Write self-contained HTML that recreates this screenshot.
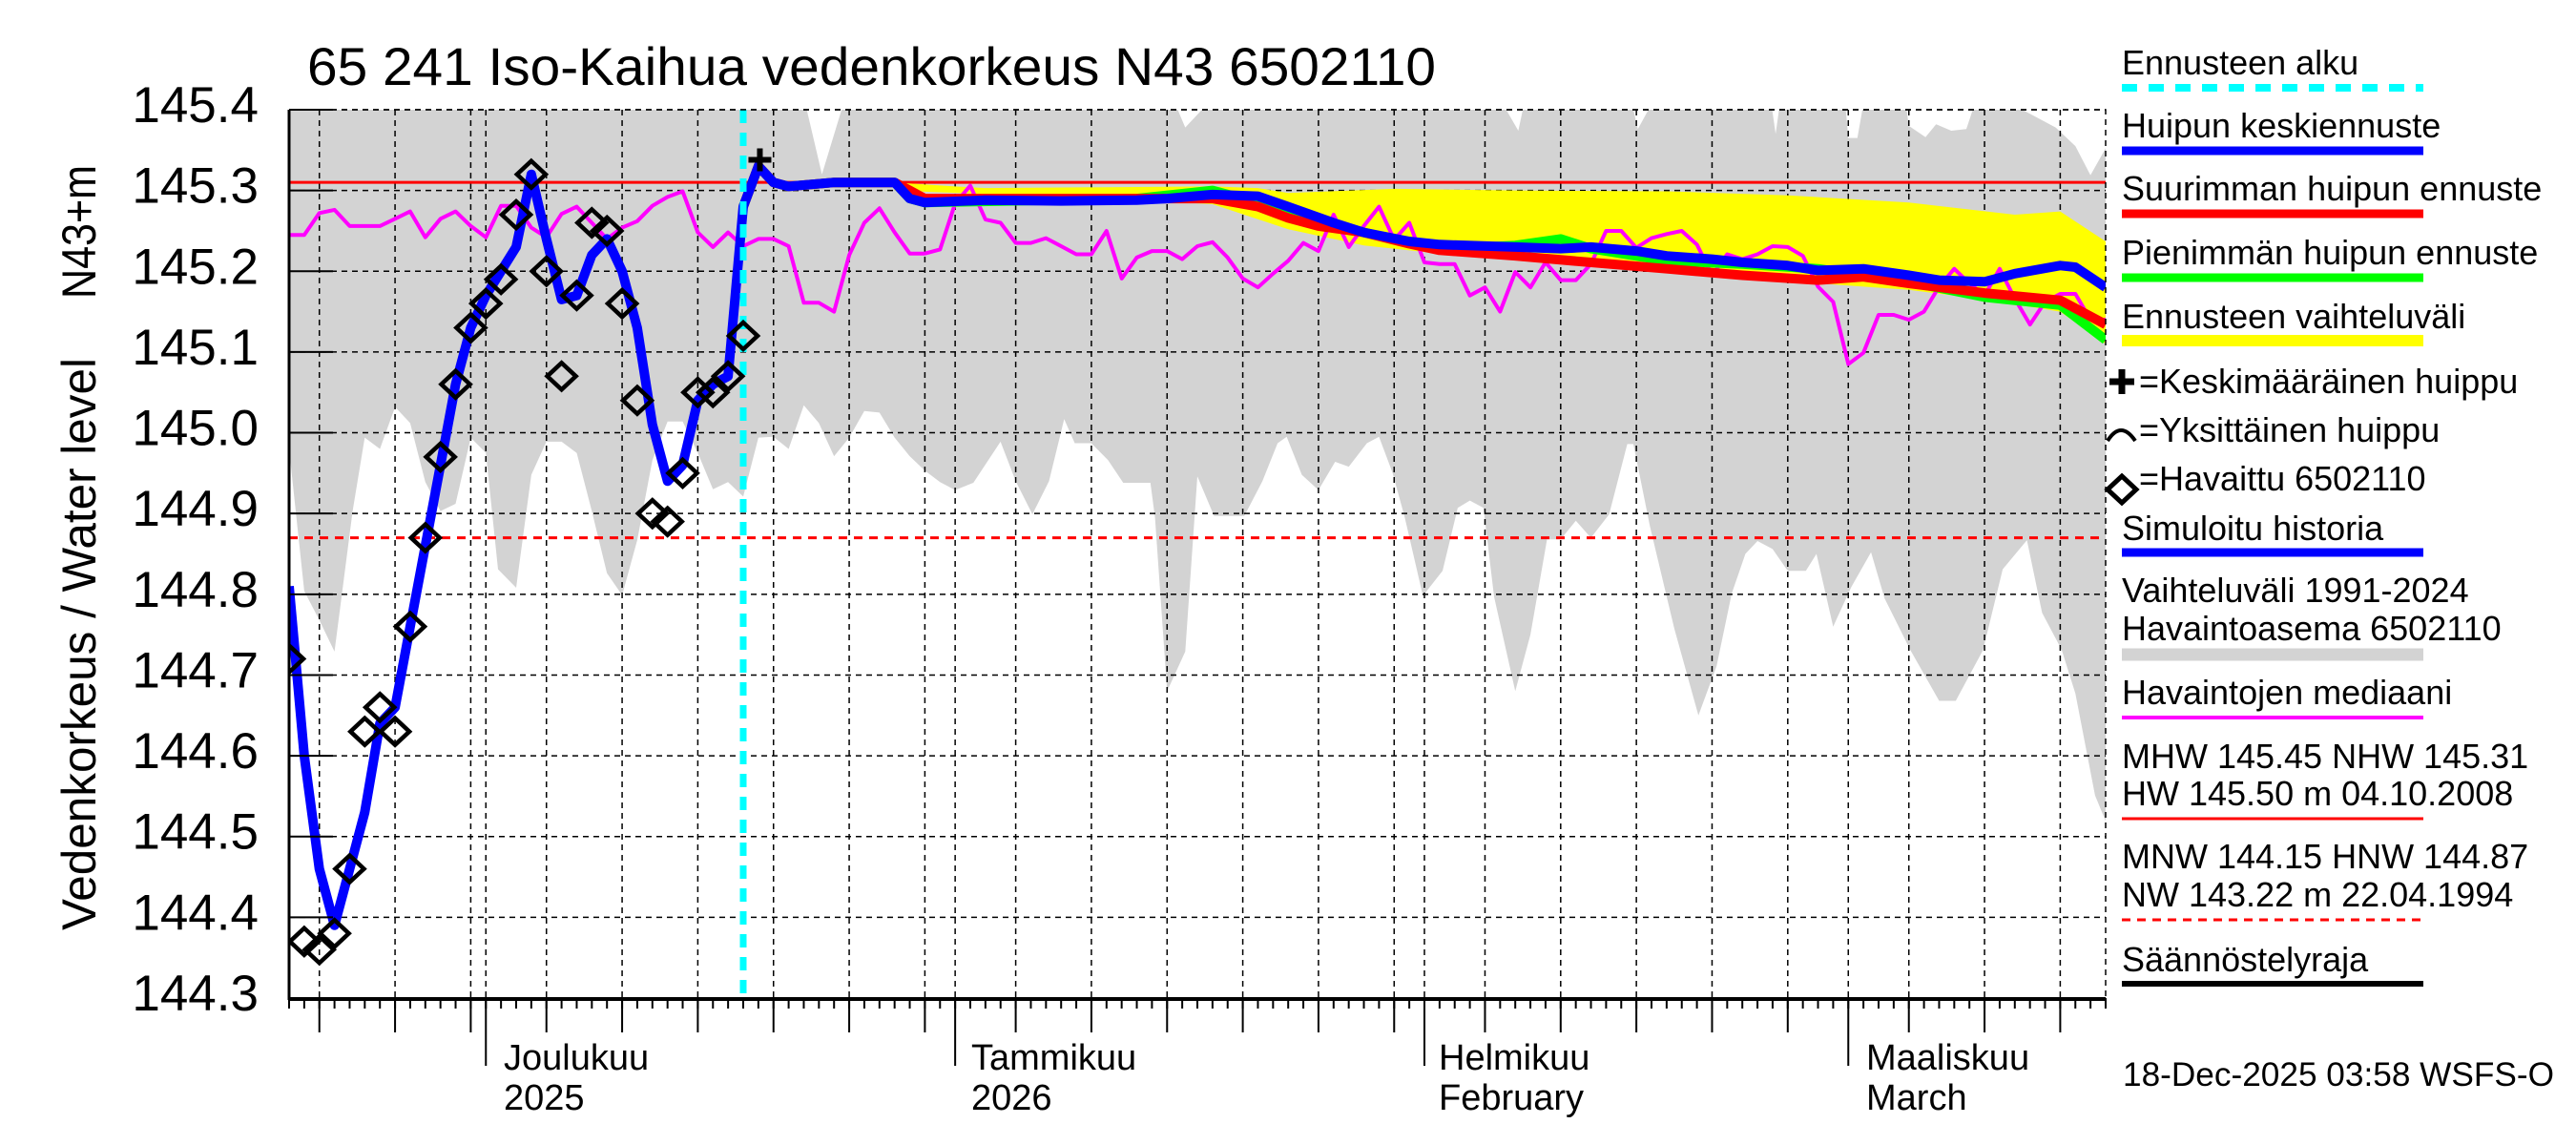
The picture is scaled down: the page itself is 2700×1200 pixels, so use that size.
<!DOCTYPE html>
<html><head><meta charset="utf-8"><style>
html,body{margin:0;padding:0;background:#fff;}
svg{display:block;font-family:"Liberation Sans",Arial,sans-serif;}
</style></head><body>
<svg id="chart" width="2700" height="1200" viewBox="0 0 2700 1200" xmlns="http://www.w3.org/2000/svg">
<defs><clipPath id="plotclip"><rect x="303" y="115" width="1904" height="931"/></clipPath></defs>
<rect width="2700" height="1200" fill="#fff"/>
<text x="322" y="89" font-size="56" textLength="1183" lengthAdjust="spacingAndGlyphs">65 241 Iso-Kaihua vedenkorkeus N43 6502110</text>
<g id="band" clip-path="url(#plotclip)"></g>
<g id="grid"></g>
<g id="series" clip-path="url(#plotclip)"></g>
<g id="axes"></g>
<text transform="translate(100,675) rotate(-90)" text-anchor="middle" font-size="50" textLength="600" lengthAdjust="spacingAndGlyphs">Vedenkorkeus / Water level</text>
<text transform="translate(100,243) rotate(-90)" text-anchor="middle" font-size="50" textLength="140" lengthAdjust="spacingAndGlyphs">N43+m</text>
<g id="legend" font-size="36">
<text x="2224" y="78">Ennusteen alku</text>
<line x1="2224" y1="92" x2="2540" y2="92" stroke="#00ffff" stroke-width="8" stroke-dasharray="16,12"/>
<text x="2224" y="144">Huipun keskiennuste</text>
<line x1="2224" y1="158" x2="2540" y2="158" stroke="#0000ff" stroke-width="9"/>
<text x="2224" y="210">Suurimman huipun ennuste</text>
<line x1="2224" y1="224" x2="2540" y2="224" stroke="#ff0000" stroke-width="9"/>
<text x="2224" y="277">Pienimmän huipun ennuste</text>
<line x1="2224" y1="291" x2="2540" y2="291" stroke="#00ff00" stroke-width="9"/>
<text x="2224" y="344">Ennusteen vaihteluväli</text>
<line x1="2224" y1="357" x2="2540" y2="357" stroke="#ffff00" stroke-width="12"/>
<path d="M2211 400 H2237 M2224 387 V413" stroke="#000" stroke-width="7"/>
<text x="2242" y="412">=Keskimääräinen huippu</text>
<path d="M2209 462 Q2223 440 2238 462" stroke="#000" stroke-width="4" fill="none"/>
<text x="2242" y="463">=Yksittäinen huippu</text>
<path d="M2224 499 L2239 513 L2224 527 L2209 513 Z" stroke="#000" stroke-width="5" fill="none"/>
<text x="2242" y="514">=Havaittu 6502110</text>
<text x="2224" y="566">Simuloitu historia</text>
<line x1="2224" y1="579" x2="2540" y2="579" stroke="#0000ff" stroke-width="9"/>
<text x="2224" y="631">Vaihteluväli 1991-2024</text>
<text x="2224" y="671">Havaintoasema 6502110</text>
<line x1="2224" y1="686" x2="2540" y2="686" stroke="#d3d3d3" stroke-width="13"/>
<text x="2224" y="738">Havaintojen mediaani</text>
<line x1="2224" y1="752" x2="2540" y2="752" stroke="#ff00ff" stroke-width="4"/>
<text x="2224" y="805">MHW 145.45 NHW 145.31</text>
<text x="2224" y="844">HW 145.50 m 04.10.2008</text>
<line x1="2224" y1="858" x2="2540" y2="858" stroke="#ff0000" stroke-width="3"/>
<text x="2224" y="910">MNW 144.15 HNW 144.87</text>
<text x="2224" y="950">NW 143.22 m 22.04.1994</text>
<line x1="2224" y1="964" x2="2540" y2="964" stroke="#ff0000" stroke-width="3" stroke-dasharray="9,7"/>
<text x="2224" y="1018">Säännöstelyraja</text>
<line x1="2224" y1="1031" x2="2540" y2="1031" stroke="#000" stroke-width="6"/>
</g>
<text x="2225" y="1138" font-size="35" textLength="452" lengthAdjust="spacingAndGlyphs">18-Dec-2025 03:58 WSFS-O</text>
<g id="xlabels" font-size="38">
<text x="528" y="1121">Joulukuu</text>
<text x="528" y="1163">2025</text>
<text x="1018" y="1121">Tammikuu</text>
<text x="1018" y="1163">2026</text>
<text x="1508" y="1121">Helmikuu</text>
<text x="1508" y="1163">February</text>
<text x="1956" y="1121">Maaliskuu</text>
<text x="1956" y="1163">March</text>
</g>
</svg>
<script>
// ---- data (day index: 0 = 18 Nov 2025) ----
const yTicks = [145.4,145.3,145.2,145.1,145.0,144.9,144.8,144.7,144.6,144.5,144.4,144.3];
const yTickLabels = ["145.4","145.3","145.2","145.1","145.0","144.9","144.8","144.7","144.6","144.5","144.4","144.3"];
const gridDays = [2,7,12,13,17,22,27,32,37,42,44,48,53,58,63,68,73,75,79,84,89,94,99,103,107,112,117];
const monthDays = [13,44,75,103];
const forecastStartDay = 30;
const nhwLevel = 145.31;
const hnwLevel = 144.87;
const observedVals = [144.72,144.37,144.36,144.38,144.46,144.63,144.66,144.63,144.76,144.87,144.97,145.06,145.13,145.16,145.19,145.27,145.32,145.20,145.07,145.17,145.26,145.25,145.16,145.04,144.90,144.89,144.95,145.05,145.05,145.07,145.12];
const meanPeakDay = 31.1, meanPeakVal = 145.338;
const blueDays = [0,1,2,3,4,5,6,7,8,9,10,11,12,13,14,15,16,17,18,19,20,21,22,23,24,25,26,27,28,29,30,31,32,33,36,40,41,42,46,51,56,58,61,64,66,69,71,74,76,81,84,86,89,91,94,96,99,101,104,107,109,112,114,117,118,120];
const blueVals = [144.81,144.60,144.46,144.39,144.46,144.53,144.64,144.66,144.76,144.86,144.96,145.06,145.13,145.17,145.20,145.23,145.32,145.24,145.165,145.17,145.22,145.24,145.20,145.13,145.01,144.94,144.96,145.04,145.06,145.07,145.28,145.33,145.31,145.305,145.31,145.31,145.29,145.285,145.288,145.287,145.288,145.29,145.295,145.293,145.28,145.26,145.248,145.237,145.233,145.23,145.228,145.23,145.225,145.219,145.215,145.211,145.207,145.201,145.203,145.195,145.189,145.187,145.197,145.207,145.205,145.18];
const redDays = [30,31,32,33,36,40,41,42,56,61,64,66,68,71,74,76,81,86,91,96,101,104,107,112,117,120];
const redVals = [145.28,145.33,145.31,145.305,145.31,145.31,145.30,145.29,145.29,145.29,145.28,145.266,145.256,145.248,145.234,145.226,145.219,145.211,145.203,145.195,145.189,145.193,145.185,145.173,145.164,145.134];
const greenDays = [30,31,32,33,36,40,41,42,56,61,66,71,76,81,84,86,91,96,101,107,112,117,120];
const greenVals = [145.28,145.33,145.31,145.305,145.31,145.31,145.29,145.285,145.29,145.30,145.275,145.248,145.227,145.232,145.24,145.228,145.213,145.209,145.203,145.187,145.168,145.158,145.115];
const yelTopDays = [40,44,46,61,64,66,73,81,91,99,107,114,117,120];
const yelTopVals = [145.31,145.305,145.303,145.305,145.303,145.297,145.302,145.30,145.299,145.294,145.285,145.27,145.274,145.237];
const yelBotDays = [40,56,61,66,71,76,81,91,101,107,112,117,120];
const yelBotVals = [145.30,145.288,145.283,145.252,145.232,145.222,145.216,145.20,145.185,145.177,145.165,145.15,145.11];
const medianVals = [145.245,145.245,145.272,145.276,145.256,145.256,145.256,145.265,145.274,145.242,145.265,145.274,145.256,145.242,145.281,145.281,145.254,145.242,145.271,145.280,145.260,145.240,145.254,145.262,145.281,145.292,145.299,145.248,145.230,145.248,145.231,145.240,145.240,145.231,145.161,145.161,145.150,145.220,145.260,145.278,145.248,145.222,145.222,145.227,
145.284,145.306,145.264,145.260,145.235,145.235,145.241,145.231,145.221,145.221,145.250,145.191,145.217,145.225,145.225,145.215,145.231,145.236,145.217,145.191,145.180,145.197,145.213,145.235,145.225,145.270,145.230,145.256,145.280,145.239,145.260,145.211,145.209,145.209,145.170,145.180,145.150,145.199,145.180,145.211,145.189,145.189,145.209,145.250,145.250,145.229,145.241,145.246,145.250,145.233,145.195,145.221,145.215,145.221,145.231,145.230,145.219,145.181,145.162,145.085,145.099,145.146,145.146,145.140,145.150,145.181,145.203,145.185,145.170,145.203,145.166,145.134,145.162,145.172,145.172,145.140,145.140];
const upDays = [0,33.8,34.2,35.2,36.5,36.8,58.5,58.7,59.2,60.3,60.5,80.2,80.4,81.2,81.5,81.7,88.6,88.8,89.1,89.8,90,97.6,98.2,98.8,102.6,103,103.6,104.4,106.5,107,108.1,108.8,109.8,110.8,112.1,113.6,114.5,116.7,118,119,120.2];
const upVals = [145.45,145.45,145.40,145.32,145.40,145.45,145.45,145.40,145.378,145.40,145.45,145.45,145.40,145.374,145.40,145.45,145.45,145.40,145.376,145.40,145.45,145.45,145.37,145.45,145.45,145.365,145.365,145.45,145.45,145.38,145.366,145.382,145.374,145.376,145.45,145.45,145.40,145.378,145.355,145.319,145.359];
const lowDays = [0,1,2,3,4.2,5,6,7,8,9,10,11,12,13,13.8,15,16,17,18,19,20,21,22,23,24,25,26,27,28,29,30,31,32,33,34,35,36,37,38,39,40,41,42,43,44,45.2,47,48,49.1,50.2,51.2,51.9,53,54.1,55.1,56.9,57.2,58,59.2,60,61.1,63.1,64.3,65.3,65.9,66.9,68,69.1,70,71.2,72,72.9,73.7,74.9,76.2,77.2,78,78.9,79.6,81,82,83.1,84,85,86,87.2,88.4,88.8,89.9,91.5,93.1,94.3,95.3,96.2,97,98,99,100.2,100.9,102,103.2,104.5,105.4,107.1,109,110.1,111.9,113.2,114.8,115.8,117.1,118,119.3,120.2];
const lowVals = [144.98,144.804,144.768,144.729,144.903,144.994,144.98,145.032,145.012,144.939,144.903,144.912,144.994,144.975,144.831,144.808,144.948,144.989,144.989,144.975,144.903,144.826,144.799,144.867,144.966,145.014,145.014,144.975,144.930,144.939,144.921,144.994,144.995,144.98,145.034,145.012,144.971,144.994,145.027,145.025,144.994,144.971,144.953,144.939,144.929,144.938,144.989,144.94,144.899,144.94,145.017,144.987,144.987,144.966,144.938,144.938,144.895,144.68,144.729,144.946,144.897,144.897,144.94,144.987,144.995,144.948,144.929,144.964,144.958,144.987,144.995,144.95,144.895,144.798,144.829,144.907,144.916,144.907,144.797,144.68,144.75,144.868,144.868,144.891,144.87,144.899,144.986,144.986,144.884,144.758,144.65,144.711,144.801,144.85,144.866,144.856,144.829,144.829,144.85,144.76,144.809,144.852,144.795,144.731,144.668,144.668,144.731,144.831,144.867,144.777,144.731,144.677,144.551,144.510];

// ---- scales ----
const X0 = 303, X1 = 2207, Y0 = 115, Y1 = 1046, DAYS = 120;
function xs(d){ return X0 + d*(X1-X0)/DAYS; }
function ys(v){ return Y0 + (145.4 - v)*(Y1-Y0)/1.1; }
const NS = "http://www.w3.org/2000/svg";
function mk(tag, attrs, parent){
  const e = document.createElementNS(NS, tag);
  for (const k in attrs) e.setAttribute(k, attrs[k]);
  parent.appendChild(e);
  return e;
}
function pts(days, vals){ return days.map((d,i)=>xs(d).toFixed(1)+","+ys(vals[i]).toFixed(1)).join(" "); }

const band = document.getElementById("band");
const grid = document.getElementById("grid");
const series = document.getElementById("series");
const axes = document.getElementById("axes");

let bandPts = pts(upDays, upVals) + " " + lowDays.map((d,i)=>xs(d).toFixed(1)+","+ys(lowVals[i]).toFixed(1)).reverse().join(" ");
const bandPoly = mk("polygon", {points: bandPts, fill: "#d3d3d3"}, band);



yTicks.forEach((v,i)=>{
  const y = ys(v);
  const gl = mk("line", {x1: X0, x2: X1, y1: y, y2: y, stroke: "#000", "stroke-width": 1.5, "stroke-dasharray": "6,5"}, grid);
  
  
  const tk = mk("line", {x1: X0, x2: X0+46, y1: y, y2: y, stroke: "#000", "stroke-width": 2}, axes);
  
  
  const lb = mk("text", {x: 271, y: y+13, "font-size": 53, "text-anchor": "end"}, axes);
  lb.textContent = yTickLabels[i];
  
  
});
gridDays.forEach(d=>{
  const x = xs(d);
  const gl = mk("line", {x1: x, x2: x, y1: Y0, y2: Y1, stroke: "#000", "stroke-width": 1.5, "stroke-dasharray": "6,5"}, grid);
  
  
  const isMonth = monthDays.indexOf(d) >= 0;
  const tk = mk("line", {x1: x, x2: x, y1: Y1, y2: isMonth ? 1117 : 1082, stroke: "#000", "stroke-width": 2}, axes);
  
  
});
for (let d=0; d<=DAYS; d++){
  const tk = mk("line", {x1: xs(d), x2: xs(d), y1: Y1, y2: 1057, stroke: "#000", "stroke-width": 2}, axes);
  
  
}
const frame = mk("path", {d: `M${X0} ${Y0} H${X1} V${Y1}`, fill: "none", stroke: "#000", "stroke-width": 1.5, "stroke-dasharray": "6,5"}, axes);


const yAxis = mk("line", {x1: X0, x2: X0, y1: Y0, y2: Y1+2, stroke: "#000", "stroke-width": 3}, axes);


const xAxis = mk("line", {x1: X0, x2: X1, y1: Y1+1, y2: Y1+1, stroke: "#000", "stroke-width": 4}, axes);



const nhw = mk("line", {x1: X0, x2: X1, y1: ys(nhwLevel), y2: ys(nhwLevel), stroke: "#ff0000", "stroke-width": 3}, series);


const hnw = mk("line", {x1: X0, x2: X1, y1: ys(hnwLevel), y2: ys(hnwLevel), stroke: "#ff0000", "stroke-width": 3, "stroke-dasharray": "9,7"}, series);



const yel = mk("polygon", {points: pts(yelTopDays, yelTopVals) + " " + yelBotDays.map((d,i)=>xs(d).toFixed(1)+","+ys(yelBotVals[i]).toFixed(1)).reverse().join(" "), fill: "#ffff00"}, series);



const med = mk("polyline", {points: pts(medianVals.map((v,i)=>i), medianVals), fill: "none", stroke: "#ff00ff", "stroke-width": 4, "stroke-linejoin": "round"}, series);



const g = mk("polyline", {points: pts(greenDays, greenVals), fill: "none", stroke: "#00ff00", "stroke-width": 10, "stroke-linejoin": "round"}, series);


const r = mk("polyline", {points: pts(redDays, redVals), fill: "none", stroke: "#ff0000", "stroke-width": 10, "stroke-linejoin": "round"}, series);


const b = mk("polyline", {points: pts(blueDays, blueVals), fill: "none", stroke: "#0000ff", "stroke-width": 10, "stroke-linejoin": "round"}, series);



const fs = mk("line", {x1: xs(forecastStartDay), x2: xs(forecastStartDay), y1: Y0, y2: Y1, stroke: "#00ffff", "stroke-width": 7, "stroke-dasharray": "14,10"}, series);



observedVals.forEach((v,i)=>{
  const x = xs(i), y = ys(v);
  const dm = mk("path", {d: `M${x} ${y-14} L${x+15} ${y} L${x} ${y+14} L${x-15} ${y} Z`, fill: "none", stroke: "#000", "stroke-width": 4.5}, series);
  
  
});
const px = xs(meanPeakDay), py = ys(meanPeakVal);
const plus = mk("path", {d: `M${px-12} ${py} H${px+12} M${px} ${py-12} V${py+12}`, stroke: "#000", "stroke-width": 6}, series);


</script>
</body></html>
